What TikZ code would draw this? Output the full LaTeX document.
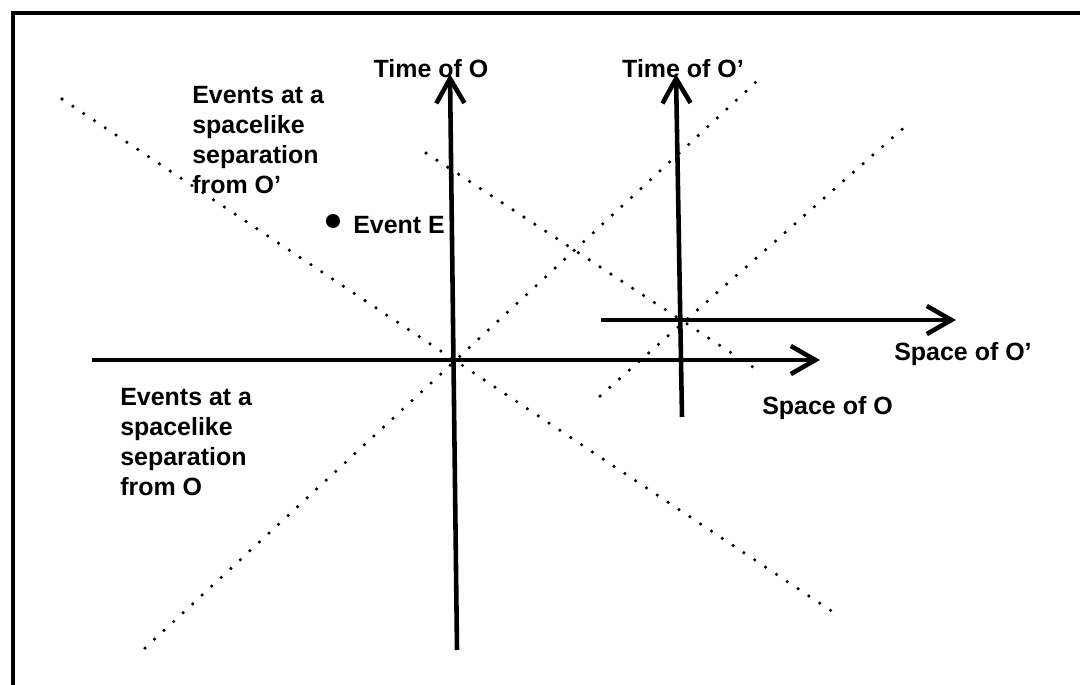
\documentclass[tikz,border=0pt]{standalone}
\usepackage{fontspec}
\setmainfont{Liberation Sans}
\usetikzlibrary{arrows.meta}

\tikzset{
  axis/.style={line width=2.6pt, -{Straight Barb[length=14pt,width=16pt]}},
  cone/.style={line width=2pt, line cap=round, dash pattern=on 0pt off 7.4pt},
  lbl/.style={font=\fontsize{14.2pt}{17pt}\selectfont\bfseries, inner sep=0pt},
}

\begin{document}
\begin{tikzpicture}[x=0.02cm, y=-0.02cm]

  \useasboundingbox (0,0) rectangle (1080,684);
  \clip (0,0) rectangle (1080,684);

  % Frame (right and bottom sides run off the page)
  \coordinate (nw) at (13,13);
  \coordinate (se) at (1100,700);
  \draw[line width=2pt] (nw) rectangle (se);

  % Origins of O and O'
  \coordinate (O) at (455,360);
  \coordinate (Op) at (680,320);

  % Ends of the axes
  \coordinate (tO-bot) at (457,650);
  \coordinate (tO-top) at (450,74);
  \coordinate (sO-left) at (92,360);
  \coordinate (sO-right) at (820,360);
  \coordinate (tOp-bot) at (682,417);
  \coordinate (tOp-top) at (676,74);
  \coordinate (sOp-left) at (601,320);
  \coordinate (sOp-right) at (956,320);

  % Ends of the light lines
  \coordinate (cA1) at (62,99);
  \coordinate (cA2) at (839,616);
  \coordinate (cB1) at (145,648);
  \coordinate (cB2) at (756,82);
  \coordinate (cC1) at (426,153);
  \coordinate (cC2) at (762,373);
  \coordinate (cD1) at (600,396);
  \coordinate (cD2) at (908,124);

  % Light lines through O and O'
  \draw[cone] (cA1) -- (cA2);
  \draw[cone] (cB1) -- (cB2);
  \draw[cone] (cC1) -- (cC2);
  \draw[cone] (cD1) -- (cD2);

  % Axes
  \draw[axis] (sO-left) -- (sO-right);
  \draw[axis] (tO-bot) -- (tO-top);
  \draw[axis] (sOp-left) -- (sOp-right);
  \draw[axis] (tOp-bot) -- (tOp-top);

  % Axis labels
  \node[lbl] (timeO) at (431,69) {Time of O};
  \node[lbl] (timeOp) at (683,69) {Time of O'};
  \node[lbl, anchor=west] (spaceO) at (762,408) {Space of O};
  \node[lbl, anchor=west] (spaceOp) at (894,354) {Space of O'};

  % Event E
  \node[circle, fill, inner sep=0pt, minimum size=8pt] (E) at (333,221) {};
  \node[lbl, anchor=west] (Elbl) at (353,225) {Event E};

  % Regions
  \node[lbl, align=left, anchor=north west] (farOp) at (192,86)
    {Events at a\\spacelike\\separation\\from O'};
  \node[lbl, align=left, anchor=north west] (farO) at (120,388)
    {Events at a\\spacelike\\separation\\from O};

\end{tikzpicture}
\end{document}
